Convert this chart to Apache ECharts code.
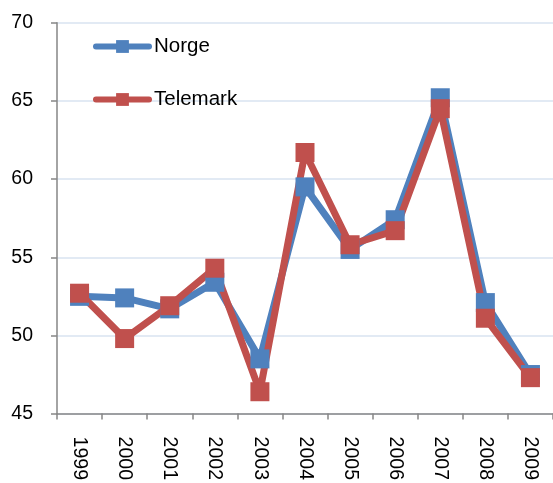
<!DOCTYPE html>
<html>
<head>
<meta charset="utf-8">
<script src="https://cdn.jsdelivr.net/npm/echarts@6/dist/echarts.min.js"></script>
<style>
  html, body { margin: 0; padding: 0; background: #fff; }
  #chart { width: 553px; height: 483px; }
</style>
</head>
<body>
<div id="chart"></div>
<script>
// Years on the category axis
const years = ['1999', '2000', '2001', '2002', '2003', '2004', '2005', '2006', '2007', '2008', '2009'];
// Yearly values for each region
const norge = [52.5, 52.4, 51.7, 53.4, 48.5, 59.5, 55.5, 57.4, 65.2, 52.1, 47.5];
const telemark = [52.7, 49.8, 51.9, 54.3, 46.4, 61.7, 55.8, 56.7, 64.5, 51.1, 47.3];
// Value axis range
const yMin = 45, yMax = 70, yStep = 5;

const FONT = '"Liberation Sans", Arial, sans-serif';
const AXIS_GREY = '#868686';

const chart = echarts.init(document.getElementById('chart'), null, { renderer: 'canvas' });

function lineSeries(name, data, color) {
  return {
    name: name,
    type: 'line',
    data: data,
    symbol: 'rect',
    symbolSize: 19,
    showSymbol: true,
    itemStyle: { color: color, borderWidth: 0 },
    lineStyle: { color: color, width: 7, cap: 'round', join: 'round' },
    emphasis: { disabled: true },
    animation: false
  };
}

chart.setOption({
  animation: false,
  textStyle: { fontFamily: FONT },
  grid: { left: 57, top: 22.7, bottom: 69.3, width: 505, containLabel: false },
  legend: {
    orient: 'vertical',
    left: 88,
    top: 31,
    padding: 5,
    itemWidth: 53,
    itemHeight: 16,
    itemGap: 32,
    textStyle: { fontSize: 20.5, color: '#000', fontFamily: FONT },
    data: [
      { name: 'Norge', itemStyle: { color: '#4F81BD' }, lineStyle: { width: 6, color: '#4F81BD', cap: 'round' } },
      { name: 'Telemark', itemStyle: { color: '#C0504D' }, lineStyle: { width: 6, color: '#C0504D', cap: 'round' } }
    ]
  },
  xAxis: {
    type: 'category',
    data: years,
    boundaryGap: true,
    axisLine: { lineStyle: { color: AXIS_GREY, width: 1.5 } },
    axisTick: { show: true, alignWithLabel: false, length: 6, lineStyle: { color: AXIS_GREY, width: 1.5 } },
    axisLabel: { rotate: -90, margin: 23, fontSize: 19.5, color: '#000', fontFamily: FONT, interval: 0 },
    splitLine: { show: false }
  },
  yAxis: {
    type: 'value',
    min: yMin,
    max: yMax,
    interval: yStep,
    axisLine: { show: true, lineStyle: { color: AXIS_GREY, width: 1.5 } },
    axisTick: { show: true, length: 6, lineStyle: { color: AXIS_GREY, width: 1.5 } },
    axisLabel: { margin: 24, fontSize: 19.5, color: '#000', fontFamily: FONT },
    splitLine: { show: true, lineStyle: { color: '#d9e3f0', width: 1.5 } }
  },
  series: [
    lineSeries('Norge', norge, '#4F81BD'),
    lineSeries('Telemark', telemark, '#C0504D')
  ]
});
</script>
</body>
</html>
